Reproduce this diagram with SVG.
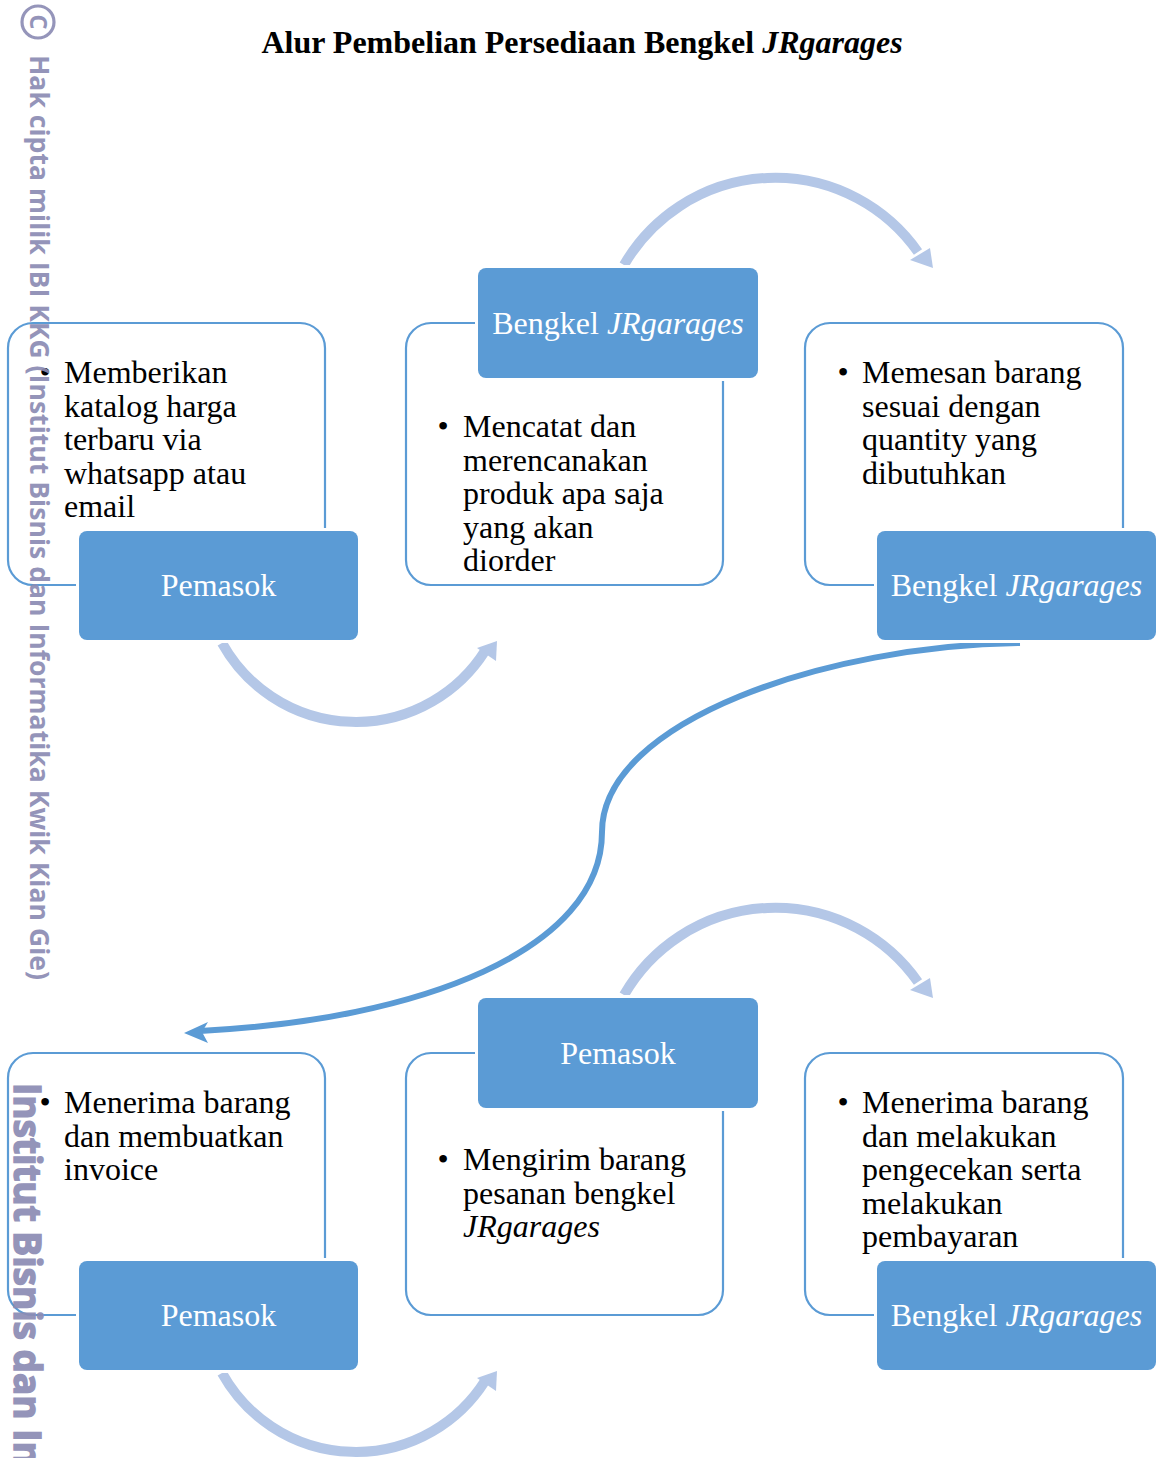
<svg xmlns="http://www.w3.org/2000/svg" width="1156" height="1458" viewBox="0 0 1156 1458">
<style>
.card{fill:#fff;stroke:#5B9BD5;stroke-width:2.2}
.lblbg{fill:#fff}
.lbl{fill:#5B9BD5}
.lt{font-family:"Liberation Serif","Times New Roman",serif;font-size:32px;fill:#fff;text-anchor:middle}
.bt{font-family:"Liberation Serif","Times New Roman",serif;font-size:32px;fill:#000}
.bu{font-family:"Liberation Serif","Times New Roman",serif;font-size:32px;fill:#000;text-anchor:middle}
.arc{fill:none;stroke:#B4C7E7;stroke-width:10}
.arh{fill:#B4C7E7}
.big{fill:none;stroke:#5B9BD5;stroke-width:6}
.wm{font-family:"Open Sans","DejaVu Sans",sans-serif;font-weight:bold;fill:#8C8CB4;opacity:0.92}
</style>
<rect width="1156" height="1458" fill="#fff"/>
<text x="582" y="53" text-anchor="middle" font-family="Liberation Serif,Times New Roman,serif" font-weight="bold" font-size="32">Alur Pembelian Persediaan Bengkel <tspan font-style="italic">JRgarages</tspan></text>

<g id="connectors">
<path class="arc" d="M624,265 A174.5,174.5 0 0 1 918,252"/>
<polygon class="arh" points="930,248 933,268 910,260"/>
<path class="arc" d="M222,643 A153,153 0 0 0 485,651"/>
<polygon class="arh" points="477,648 497,641 496,661"/>
<path class="arc" d="M624,995 A174.5,174.5 0 0 1 918,982"/>
<polygon class="arh" points="930,978 933,998 910,990"/>
<path class="arc" d="M222,1373 A153,153 0 0 0 485,1381"/>
<polygon class="arh" points="477,1378 497,1371 496,1391"/>
<path class="big" d="M1020,643 C830,645 602,720 602,832 C602,950 420,1020 200,1031"/>
<polygon fill="#5B9BD5" points="184,1033 208,1022 202,1032 208,1043"/>
</g>

<g id="card1"><rect class="card" x="8" y="323" width="317" height="262" rx="25"/>
<text class="bu" x="45" y="383">•</text>
<text class="bt"><tspan x="64" y="383">Memberikan</tspan><tspan x="64" y="416.6">katalog harga</tspan><tspan x="64" y="450.2">terbaru via</tspan><tspan x="64" y="483.8">whatsapp atau</tspan><tspan x="64" y="517.4">email</tspan></text></g>
<g id="card2"><rect class="card" x="406" y="323" width="317" height="262" rx="25"/>
<text class="bu" x="443" y="437">•</text>
<text class="bt"><tspan x="463" y="437">Mencatat dan</tspan><tspan x="463" y="470.6">merencanakan</tspan><tspan x="463" y="504.2">produk apa saja</tspan><tspan x="463" y="537.8">yang akan</tspan><tspan x="463" y="571.4">diorder</tspan></text></g>
<g id="card3"><rect class="card" x="805" y="323" width="318" height="262" rx="25"/>
<text class="bu" x="843" y="383">•</text>
<text class="bt"><tspan x="862" y="383">Memesan barang</tspan><tspan x="862" y="416.6">sesuai dengan</tspan><tspan x="862" y="450.2">quantity yang</tspan><tspan x="862" y="483.8">dibutuhkan</tspan></text></g>
<g id="card4"><rect class="card" x="8" y="1053" width="317" height="262" rx="25"/>
<text class="bu" x="45" y="1113">•</text>
<text class="bt"><tspan x="64" y="1113">Menerima barang</tspan><tspan x="64" y="1146.6">dan membuatkan</tspan><tspan x="64" y="1180.2">invoice</tspan></text></g>
<g id="card5"><rect class="card" x="406" y="1053" width="317" height="262" rx="25"/>
<text class="bu" x="443" y="1170">•</text>
<text class="bt"><tspan x="463" y="1170">Mengirim barang</tspan><tspan x="463" y="1203.6">pesanan bengkel</tspan><tspan x="463" y="1237.2" font-style="italic">JRgarages</tspan></text></g>
<g id="card6"><rect class="card" x="805" y="1053" width="318" height="262" rx="25"/>
<text class="bu" x="843" y="1113">•</text>
<text class="bt"><tspan x="862" y="1113">Menerima barang</tspan><tspan x="862" y="1146.6">dan melakukan</tspan><tspan x="862" y="1180.2">pengecekan serta</tspan><tspan x="862" y="1213.8">melakukan</tspan><tspan x="862" y="1247.4">pembayaran</tspan></text></g>

<g id="label1"><rect class="lblbg" x="76" y="528" width="285" height="115" rx="10"/><rect class="lbl" x="79" y="531" width="279" height="109" rx="8"/><text class="lt" x="218.5" y="596">Pemasok</text></g>
<g id="label2"><rect class="lblbg" x="475" y="265" width="286" height="116" rx="10"/><rect class="lbl" x="478" y="268" width="280" height="110" rx="8"/><text class="lt" x="618" y="333.5">Bengkel <tspan font-style="italic">JRgarages</tspan></text></g>
<g id="label3"><rect class="lblbg" x="874" y="528" width="285" height="115" rx="10"/><rect class="lbl" x="877" y="531" width="279" height="109" rx="8"/><text class="lt" x="1016.5" y="596">Bengkel <tspan font-style="italic">JRgarages</tspan></text></g>
<g id="label4"><rect class="lblbg" x="76" y="1258" width="285" height="115" rx="10"/><rect class="lbl" x="79" y="1261" width="279" height="109" rx="8"/><text class="lt" x="218.5" y="1326">Pemasok</text></g>
<g id="label5"><rect class="lblbg" x="475" y="995" width="286" height="116" rx="10"/><rect class="lbl" x="478" y="998" width="280" height="110" rx="8"/><text class="lt" x="618" y="1063.5">Pemasok</text></g>
<g id="label6"><rect class="lblbg" x="874" y="1258" width="285" height="115" rx="10"/><rect class="lbl" x="877" y="1261" width="279" height="109" rx="8"/><text class="lt" x="1016.5" y="1326">Bengkel <tspan font-style="italic">JRgarages</tspan></text></g>

<g id="watermark">
<circle cx="38" cy="22" r="16" fill="none" stroke="#8C8CB4" stroke-width="3.2" opacity="0.92"/>
<text class="wm" font-size="24" text-anchor="middle" transform="translate(30,22) rotate(90)">C</text>
<text class="wm" font-size="27" textLength="925" lengthAdjust="spacingAndGlyphs" transform="translate(30,55) rotate(90)">Hak cipta milik IBI KKG (Institut Bisnis dan Informatika Kwik Kian Gie)</text>
<text class="wm" font-size="37" stroke="#8C8CB4" stroke-width="1.5" transform="translate(14,1083) rotate(90)">Institut Bisnis dan In</text>
</g>
</svg>
